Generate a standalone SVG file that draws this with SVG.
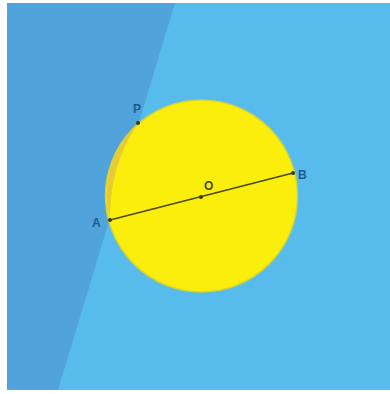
<svg xmlns="http://www.w3.org/2000/svg" width="390" height="394" viewBox="0 0 390 394">
<style>
.lbl{font-family:"Liberation Sans",Arial,sans-serif;font-size:12px;font-weight:bold;fill:#1d5a8c}
.pt{fill:#3a3a10}
</style>
<rect x="0" y="0" width="390" height="394" fill="#ffffff"/>
<rect x="7" y="3" width="383" height="387" fill="#57bcec"/>
<polygon points="7,3 175,3 58,390 7,390" fill="#50a4db"/>
<g id="circle">
<circle cx="201.5" cy="196" r="96" fill="#fcee0c" stroke="#d2d43a" stroke-width="1.5"/>
<path d="M136,126 A96,96 0 0 0 110,220 A170,170 0 0 1 136,126 Z" fill="#e2c040" opacity="0.8"/>
</g>
<g id="connectors">
<line x1="110" y1="220" x2="293" y2="173" stroke="#4a4a12" stroke-width="1.8"/>
</g>
<g id="A"><circle class="pt" cx="110" cy="220" r="2"/><text class="lbl" x="92" y="227">A</text></g>
<g id="B"><circle class="pt" cx="293" cy="173" r="2"/><text class="lbl" x="298" y="179">B</text></g>
<g id="O"><circle class="pt" cx="201" cy="197" r="2"/><text class="lbl" x="204" y="190" style="fill:#4a4a12">O</text></g>
<g id="P"><circle class="pt" cx="138" cy="123" r="2"/><text class="lbl" x="133" y="113">P</text></g>
</svg>
